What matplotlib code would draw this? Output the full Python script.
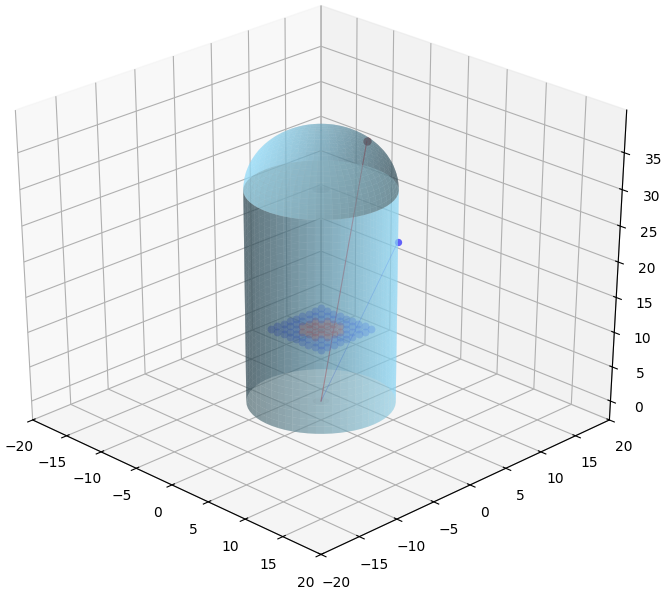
import numpy as np
import matplotlib
matplotlib.use('Agg')
import matplotlib.pyplot as plt

# grid of points at z = grid_z
grid_vals = [-3.4, -2.55, -1.7, -0.85, 0.0, 0.85, 1.7, 2.55, 3.4]
grid_z = 10.5
red_x = [-1.7, -1.7, -1.7, -0.85, -0.85, -0.85, -0.85, -0.85, 0.0, 0.0, 0.0, 0.0, 0.0,
         0.85, 0.85, 0.85, 0.85, 0.85, 1.7, 1.7, 1.7]
red_y = [-0.85, 0.0, 0.85, -1.7, -0.85, 0.0, 0.85, 1.7, -1.7, -0.85, 0.0, 0.85, 1.7,
         -1.7, -0.85, 0.0, 0.85, 1.7, -0.85, 0.0, 0.85]

radius = 7.3
wall_top = 30.0
dome_h = 8.0
origin = [0.0, 0.0, 0.0]
blue_tip = [5.15, 5.15, 22.8]
red_tip = [4.0, 2.0, 37.3]

fig = plt.figure(figsize=(6.66, 5.91), dpi=100)
ax = fig.add_axes([-0.0623, 0.051, 1.06, 0.96], projection='3d')
# let the 3d axes stretch with the box, no square fit
ax.apply_aspect = lambda position=None: None
ax.view_init(elev=30, azim=-45)
ax.set_box_aspect((1, 1, 1.06), zoom=1.02)

# cylinder wall
theta = np.linspace(2 * np.pi, 0, 60)
zw = np.linspace(0, wall_top, 30)
T, Z = np.meshgrid(theta, zw)
ax.plot_surface(radius * np.cos(T), radius * np.sin(T), Z, color='#8fdcfb',
                alpha=0.5, linewidth=0, rstride=1, cstride=1)

# dome
theta2 = np.linspace(0, 2 * np.pi, 60)
phi = np.linspace(0, np.pi / 2, 20)
T2, P = np.meshgrid(theta2, phi)
ax.plot_surface(radius * np.cos(T2) * np.cos(P), radius * np.sin(T2) * np.cos(P),
                wall_top + dome_h * np.sin(P), color='#8fdcfb',
                alpha=0.5, linewidth=0, rstride=1, cstride=1)

# end caps
rr = np.linspace(0, radius, 10)
R, T3 = np.meshgrid(rr, theta2)
for zc in [0.0, wall_top]:
    ax.plot_surface(R * np.cos(T3), R * np.sin(T3), np.full_like(R, zc),
                    color='lightcyan', alpha=0.4, linewidth=0)

gx, gy = np.meshgrid(grid_vals, grid_vals)
red_pts = set(zip(red_x, red_y))
keep = [(a, b) not in red_pts for a, b in zip(gx.ravel().tolist(), gy.ravel().tolist())]
ax.scatter(gx.ravel()[keep], gy.ravel()[keep], grid_z, color='blue', alpha=0.35, s=32,
           linewidth=0, depthshade=False)
ax.scatter(red_x, red_y, grid_z, color='red', alpha=0.5, s=32, linewidth=0, depthshade=False)

ax.plot([origin[0], blue_tip[0]], [origin[1], blue_tip[1]], [origin[2], blue_tip[2]],
        color='blue', alpha=0.4, linewidth=0.6)
ax.plot([origin[0], red_tip[0]], [origin[1], red_tip[1]], [origin[2], red_tip[2]],
        color='red', alpha=0.7, linewidth=0.8)
ax.scatter(*blue_tip, color='blue', alpha=0.6, s=28, linewidth=0, depthshade=False)
ax.scatter(*red_tip, color='maroon', alpha=0.7, s=36, linewidth=0, depthshade=False)

ax.set_xlim(-20, 20)
ax.set_ylim(-20, 20)
ax.set_zlim(-2.8, 40.7)
ax.set_xticks(range(-20, 21, 5))
ax.set_yticks(range(-20, 21, 5))
ax.set_zticks(range(0, 36, 5))

plt.savefig('out.png', dpi=100)
